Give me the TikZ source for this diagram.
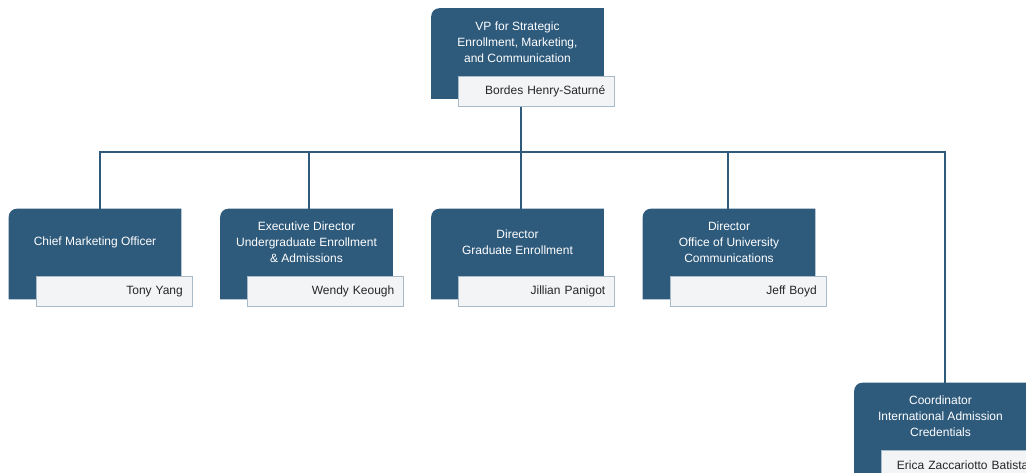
\documentclass[tikz,border=0pt]{standalone}
\usepackage{fontspec}
\setmainfont{Liberation Sans}
\usetikzlibrary{backgrounds}
\definecolor{orgblue}{HTML}{2E5A7C}
\definecolor{namefill}{HTML}{F2F4F5}
\definecolor{nameedge}{HTML}{A9BBC8}
\tikzset{role box/.style={
  minimum width=129pt, minimum height=50.25pt, inner sep=2pt,
  align=center, text=white, font=\fontsize{9}{12}\selectfont
  },
  name box/.style={
  draw=nameedge, fill=namefill, line width=0.6pt, anchor=north west,
  minimum height=22.5pt, text width=103pt, inner xsep=7pt, inner ysep=0pt,
  align=right, text=black!85, font=\fontsize{9}{11}\selectfont
  },
  org line/.style={
  draw=orgblue, line width=1.5pt
  }
}
\begin{document}
\begin{tikzpicture}[x=0.75pt,y=-0.75pt]
    \useasboundingbox (0,0) rectangle (1026,473);

    \foreach \id/\x/\y/\role/\who in {vp/517.5/42/{VP for Strategic\\Enrollment, Marketing,\\and Communication}/{Bordes Henry-Saturné},
        cmo/95/242.5/{Chief Marketing Officer}/{Tony Yang},
        exec/306.5/242.5/{Executive Director\\Undergraduate Enrollment\\\& Admissions}/{Wendy Keough},
        grad/517.5/242.5/{Director\\Graduate Enrollment}/{Jillian Panigot},
        comm/729/242.5/{Director\\Office of University\\Communications}/{Jeff Boyd},
        coord/940.5/416.5/{Coordinator\\International Admission\\Credentials}/{Erica Zaccariotto Batista}}
    {
        \node[role box] (\id) at (\x,\y) {\role};
        \begin{scope}[on background layer]
            \fill[orgblue] ([yshift=-17.25pt]\id.south west) -- ([yshift=-6pt]\id.north west)
                arc[start angle=180,end angle=90,radius=6pt] -- (\id.north east)
                -- ([yshift=-17.25pt]\id.south east) -- cycle;
        \end{scope}
        \node[name box] (\id-name) at ([xshift=20.25pt]\id.south west) {\who};
    }

    \coordinate (hub) at (521,152);
    \draw[org line] (hub |- vp-name.south) -- (hub);

    \foreach \id/\cx in {cmo/100,exec/309,grad/521,comm/728,coord/945}
        \draw[org line] (hub) -| (\id.north -| \cx,0);

\end{tikzpicture}
\end{document}
